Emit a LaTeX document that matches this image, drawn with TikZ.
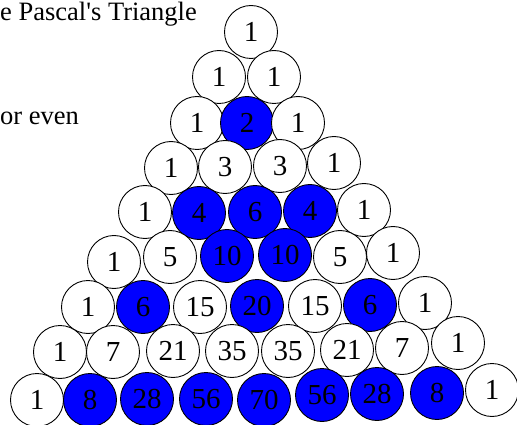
\documentclass[tikz,border=0pt]{standalone}
\usepackage{fontspec}
\setmainfont{Liberation Serif}

\tikzset{
  cell/.style={circle,draw=black,line width=0.9pt,minimum size=53pt,inner sep=0pt,
    font=\fontsize{29}{31}\selectfont},
  oddcell/.style={cell,fill=white},
  evencell/.style={cell,fill=blue},
  caption/.style={anchor=base west,inner sep=0pt,font=\fontsize{26.5}{29}\selectfont}
}

\begin{document}
\begin{tikzpicture}[x=1pt,y=-1pt]
  \useasboundingbox (0,0) rectangle (517,425);
  % Text at the left
  \node[caption] (title) at (0,21) {e Pascal\textquotesingle s Triangle};
  \node[caption] (note) at (0,125) {or even};
  % Triangle, row by row; even entries filled blue
  \foreach \n/\x/\y/\v/\s in {r0c0/251/32/1/oddcell}{\node[\s] (\n) at (\x,\y) {\v};}
  \foreach \n/\x/\y/\v/\s in {r1c0/219/77/1/oddcell,r1c1/274/77/1/oddcell}{\node[\s] (\n) at (\x,\y) {\v};}
  \foreach \n/\x/\y/\v/\s in {r2c0/197/123/1/oddcell,r2c1/247/123/2/evencell,r2c2/298/123/1/oddcell}{\node[\s] (\n) at (\x,\y) {\v};}
  \foreach \n/\x/\y/\v/\s in {r3c0/171/168/1/oddcell,r3c1/225/167/3/oddcell,r3c2/280/166/3/oddcell,
    r3c3/334/163/1/oddcell}{\node[\s] (\n) at (\x,\y) {\v};}
  \foreach \n/\x/\y/\v/\s in {r4c0/145/212/1/oddcell,r4c1/199/213/4/evencell,r4c2/255/212/6/evencell,
    r4c3/310/211/4/evencell,r4c4/364/210/1/oddcell}{\node[\s] (\n) at (\x,\y) {\v};}
  \foreach \n/\x/\y/\v/\s in {r5c0/114/262/1/oddcell,r5c1/170/257/5/oddcell,r5c2/227/256/10/evencell,
    r5c3/285/255/10/evencell,r5c4/340/257/5/oddcell,r5c5/393/253/1/oddcell}{\node[\s] (\n) at (\x,\y) {\v};}
  \foreach \n/\x/\y/\v/\s in {r6c0/88/307/1/oddcell,r6c1/143/307/6/evencell,r6c2/200/307/15/oddcell,
    r6c3/257/306/20/evencell,r6c4/315/306/15/oddcell,r6c5/370/305/6/evencell,
    r6c6/425/303/1/oddcell}{\node[\s] (\n) at (\x,\y) {\v};}
  \foreach \n/\x/\y/\v/\s in {r7c0/60/352/1/oddcell,r7c1/113/352/7/oddcell,r7c2/173/351/21/oddcell,
    r7c3/232/351/35/oddcell,r7c4/288/351/35/oddcell,r7c5/347/350/21/oddcell,
    r7c6/402/348/7/oddcell,r7c7/458/343/1/oddcell}{\node[\s] (\n) at (\x,\y) {\v};}
  \foreach \n/\x/\y/\v/\s in {r8c0/37/400/1/oddcell,r8c1/90/400/8/evencell,r8c2/147/399/28/evencell,
    r8c3/206/399/56/evencell,r8c4/264/400/70/evencell,r8c5/322/395/56/evencell,
    r8c6/377/394/28/evencell,r8c7/437/393/8/evencell,r8c8/492/390/1/oddcell}{\node[\s] (\n) at (\x,\y) {\v};}
\end{tikzpicture}
\end{document}
